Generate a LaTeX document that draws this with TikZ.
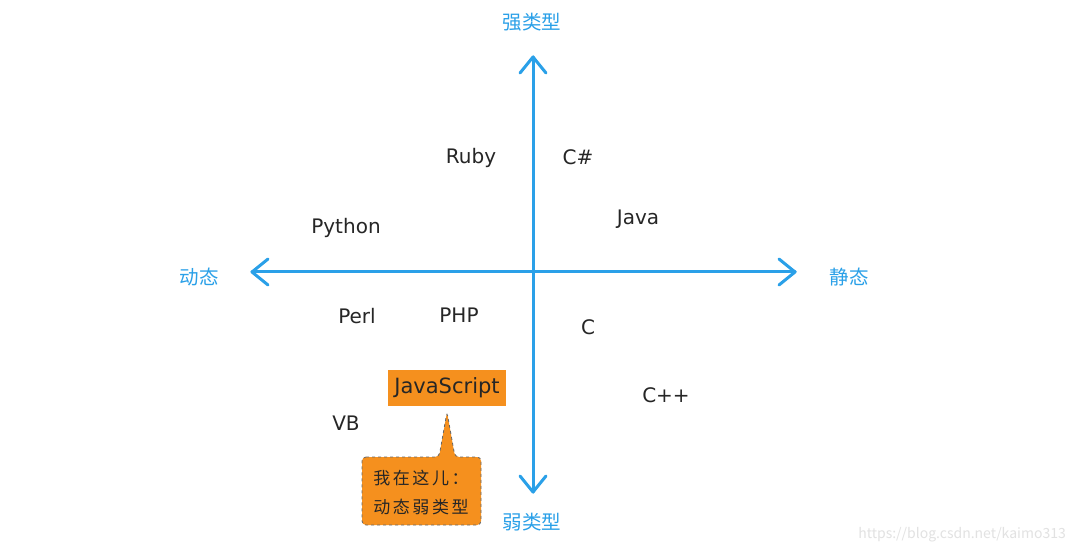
\documentclass[tikz,border=0pt]{standalone}
\usepackage{fontspec}
\setmainfont{Noto Sans CJK SC}
\newfontfamily\latinfont{DejaVu Sans}
\newfontfamily\spacedcjk[LetterSpace=15]{Noto Sans CJK SC}
\usetikzlibrary{calc}
\definecolor{axisblue}{HTML}{2AA0E8}
\definecolor{jsorange}{HTML}{F5901E}
\definecolor{wm}{HTML}{E2E2E2}
\begin{document}
\begin{tikzpicture}[x=1pt,y=-1pt,
  axis/.style={draw=axisblue,line width=3pt,line cap=round,line join=round},
  axlabel/.style={text=axisblue,font=\fontsize{19.5}{20}\selectfont,inner sep=0pt},
  lang/.style={text=black!85,font=\latinfont\fontsize{20}{20}\selectfont,inner sep=0pt},
  jsbox/.style={fill=jsorange,text=black!85,font=\latinfont\fontsize{21}{21}\selectfont,minimum width=118pt,minimum height=36pt,inner sep=0pt},
  callout/.style={fill=jsorange,draw=black!60,dashed,line width=0.8pt,rounded corners=4pt},
  calltext/.style={text=black!85,font=\spacedcjk\fontsize{17}{17}\selectfont,inner sep=0pt}]
\useasboundingbox (0,0) rectangle (1073,553);
\fill[white] (0,0) rectangle (1073,553);
% axis end coordinates
\coordinate (top) at (533,57);
\coordinate (bot) at (533,492);
\coordinate (left) at (252,272);
\coordinate (right) at (795,272);
\draw[axis] (bot) -- (top);
\draw[axis] (left) -- (right);
% chevrons
\draw[axis] ($(top)+(-13,16)$) -- (top) -- ($(top)+(13,16)$);
\draw[axis] ($(bot)+(-13,-16)$) -- (bot) -- ($(bot)+(13,-16)$);
\draw[axis] ($(left)+(16,-13)$) -- (left) -- ($(left)+(16,13)$);
\draw[axis] ($(right)+(-16,-13)$) -- (right) -- ($(right)+(-16,13)$);
% axis labels
\node[axlabel] (strong) at (532,22) {强类型};
\node[axlabel] (weak) at (532,522) {弱类型};
\node[axlabel] (dyn) at (199,277) {动态};
\node[axlabel] (stat) at (849,277) {静态};
% languages
\node[lang] (ruby) at (471,158) {Ruby};
\node[lang] (cs) at (578,157) {C\#};
\node[lang] (java) at (638,219) {Java};
\node[lang] (python) at (346,228) {Python};
\node[lang] (perl) at (357,316) {Perl};
\node[lang] (php) at (459,315) {PHP};
\node[lang] (c) at (588,327) {C};
\node[lang] (cpp) at (666,395) {C++};
\node[lang] (vb) at (346,423) {VB};
\node[jsbox] (js) at (447,388) {JavaScript};
% callout
\coordinate (tip) at (447,412);
\draw[callout] (362,457) -- (439,457) -- (tip) -- (455,457) -- (481,457) -- (481,525) -- (362,525) -- cycle;
\node[calltext] (here1) at (421,478) {我在这儿：};
\node[calltext] (here2) at (421,507) {动态弱类型};
% watermark
\node[text=wm,font=\fontsize{14}{14}\selectfont,anchor=east,inner sep=0pt] (mark) at (1066,535) {https://blog.csdn.net/kaimo313};
\end{tikzpicture}
\end{document}
